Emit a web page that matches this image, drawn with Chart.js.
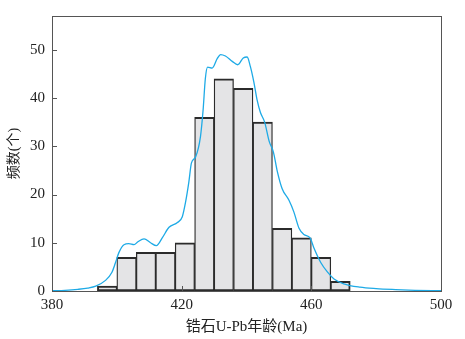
<!DOCTYPE html>
<html>
<head>
<meta charset="utf-8">
<script src="https://cdn.jsdelivr.net/npm/chart.js@4.4.0/dist/chart.umd.min.js"></script>
<style>
  html, body { margin: 0; padding: 0; background: #fff; }
  #c { display: block; }
</style>
</head>
<body>
<canvas id="c" width="465" height="339"></canvas>
<script>
// ── Data ─────────────────────────────────────────────────────
const BIN_CENTERS = [397, 403, 409, 415, 421, 427, 433, 439, 445, 451, 457, 463, 469];
const BIN_COUNTS  = [1, 7, 8, 8, 10, 36, 44, 42, 35, 13, 11, 7, 2];

// probability-density curve (age, scaled frequency)
const CURVE_X = [380, 384, 388, 391, 393.5, 396.5, 398.5, 399.6, 400.6, 402.2, 403.7, 405.3, 406.5,
  408.4, 410.4, 412.2, 414, 416.1, 418.7, 420.2, 421.2, 422.2, 423, 424.3, 425.8, 426.6, 427.3,
  428, 429.4, 431, 432, 433.5, 435.6, 437.3, 439, 440.2, 441.2, 442.3, 443.3, 444.3, 445.6, 447,
  448.3, 449.5, 451, 453.1, 454.6, 456.2, 457.7, 459.6, 460.8, 462.9, 465, 467, 470, 475, 480,
  486, 492, 500];
const CURVE_Y = [0.05, 0.15, 0.35, 0.6, 1.0, 2.2, 3.9, 5.9, 7.9, 9.6, 9.8, 9.6, 10.2,
  10.8, 10.0, 9.4, 11.0, 13.2, 14.2, 15.4, 18.4, 22.5, 26.5, 27.8, 32, 37.4, 44,
  46.4, 46.2, 48.2, 49.0, 48.7, 47.6, 46.9, 48.3, 48.5, 46.5, 43.2, 39.5, 37, 35, 31,
  28.8, 24.8, 21.2, 18.8, 16.4, 13.0, 11.7, 11.0, 8.9, 5.9, 3.9, 2.5, 1.5, 0.8, 0.5,
  0.3, 0.15, 0.05];

const X_TICKS = [380, 420, 460, 500];
const Y_TICKS = [0, 10, 20, 30, 40, 50];

const X_TITLE = '锆石U-Pb年龄(Ma)';
const Y_TITLE = '频数(个)';

// ── Styles ───────────────────────────────────────────────────
const SERIF = '"Liberation Serif", "Times New Roman", "Noto Sans CJK SC", serif';
const FRAME_COLOR = '#555';
const TEXT_COLOR = '#222';
const BAR_FILL = '#e4e4e6';
const BAR_EDGE = '#2b2b2b';
const CURVE_COLOR = '#1eaae6';

// frame + inward ticks
const framePlugin = {
  id: 'frame',
  afterDatasetsDraw(chart) {
    const { ctx, chartArea: a, scales } = chart;
    ctx.save();
    ctx.strokeStyle = FRAME_COLOR;
    ctx.lineWidth = 1;
    ctx.strokeRect(a.left + 0.5, a.top + 0.5, a.right - a.left, a.bottom - a.top);
    ctx.beginPath();
    X_TICKS.forEach(v => {
      const px = Math.round(scales.x.getPixelForValue(v)) + 0.5;
      ctx.moveTo(px, a.bottom);
      ctx.lineTo(px, a.bottom - 5);
    });
    Y_TICKS.forEach(v => {
      const py = Math.round(scales.y.getPixelForValue(v)) + 0.5;
      ctx.moveTo(a.left, py);
      ctx.lineTo(a.left + 5, py);
    });
    ctx.stroke();
    ctx.restore();
  }
};

const last = BIN_COUNTS.length - 1;

new Chart(document.getElementById('c'), {
  type: 'bar',
  data: {
    datasets: [
      {
        type: 'line',
        order: 0,
        data: CURVE_X.map((x, i) => ({ x: x, y: CURVE_Y[i] })),
        borderColor: CURVE_COLOR,
        borderWidth: 1.3,
        pointRadius: 0,
        cubicInterpolationMode: 'monotone',
        fill: false
      },
      {
        type: 'bar',
        order: 1,
        data: BIN_CENTERS.map((x, i) => ({ x: x, y: BIN_COUNTS[i] })),
        backgroundColor: BAR_FILL,
        borderColor: BAR_EDGE,
        borderSkipped: false,
        borderWidth: ctx => ({
          top: 2, bottom: 2,
          left: ctx.dataIndex === 0 ? 2 : 1.3,
          right: ctx.dataIndex === last ? 2 : 1.3
        }),
        barPercentage: 1,
        categoryPercentage: 1
      }
    ]
  },
  options: {
    responsive: false,
    animation: false,
    events: [],
    layout: { padding: { left: 0, top: 10, right: 24, bottom: 0 } },
    plugins: { legend: { display: false }, tooltip: { enabled: false } },
    scales: {
      x: {
        type: 'linear',
        min: 380, max: 500,
        offset: false,
        afterBuildTicks: s => { s.ticks = X_TICKS.map(v => ({ value: v })); },
        afterFit: s => { s.height = 48; },
        grid: { display: false, drawTicks: false },
        border: { display: false },
        ticks: { color: TEXT_COLOR, padding: 5, maxRotation: 0, font: { family: SERIF, size: 15 } },
        title: {
          display: true, text: X_TITLE, color: TEXT_COLOR,
          font: { family: SERIF, size: 15 },
          padding: { top: 3, bottom: 3 }
        }
      },
      y: {
        min: 0, max: 57,
        afterBuildTicks: s => { s.ticks = Y_TICKS.map(v => ({ value: v })); },
        afterFit: s => { s.width = 52; },
        grid: { display: false, drawTicks: false },
        border: { display: false },
        ticks: { color: TEXT_COLOR, padding: 7, font: { family: SERIF, size: 15 } },
        title: {
          display: true, text: Y_TITLE, color: TEXT_COLOR,
          font: { family: SERIF, size: 14 },
          padding: { top: 6, bottom: 6 }
        }
      }
    }
  },
  plugins: [framePlugin]
});
</script>
</body>
</html>
